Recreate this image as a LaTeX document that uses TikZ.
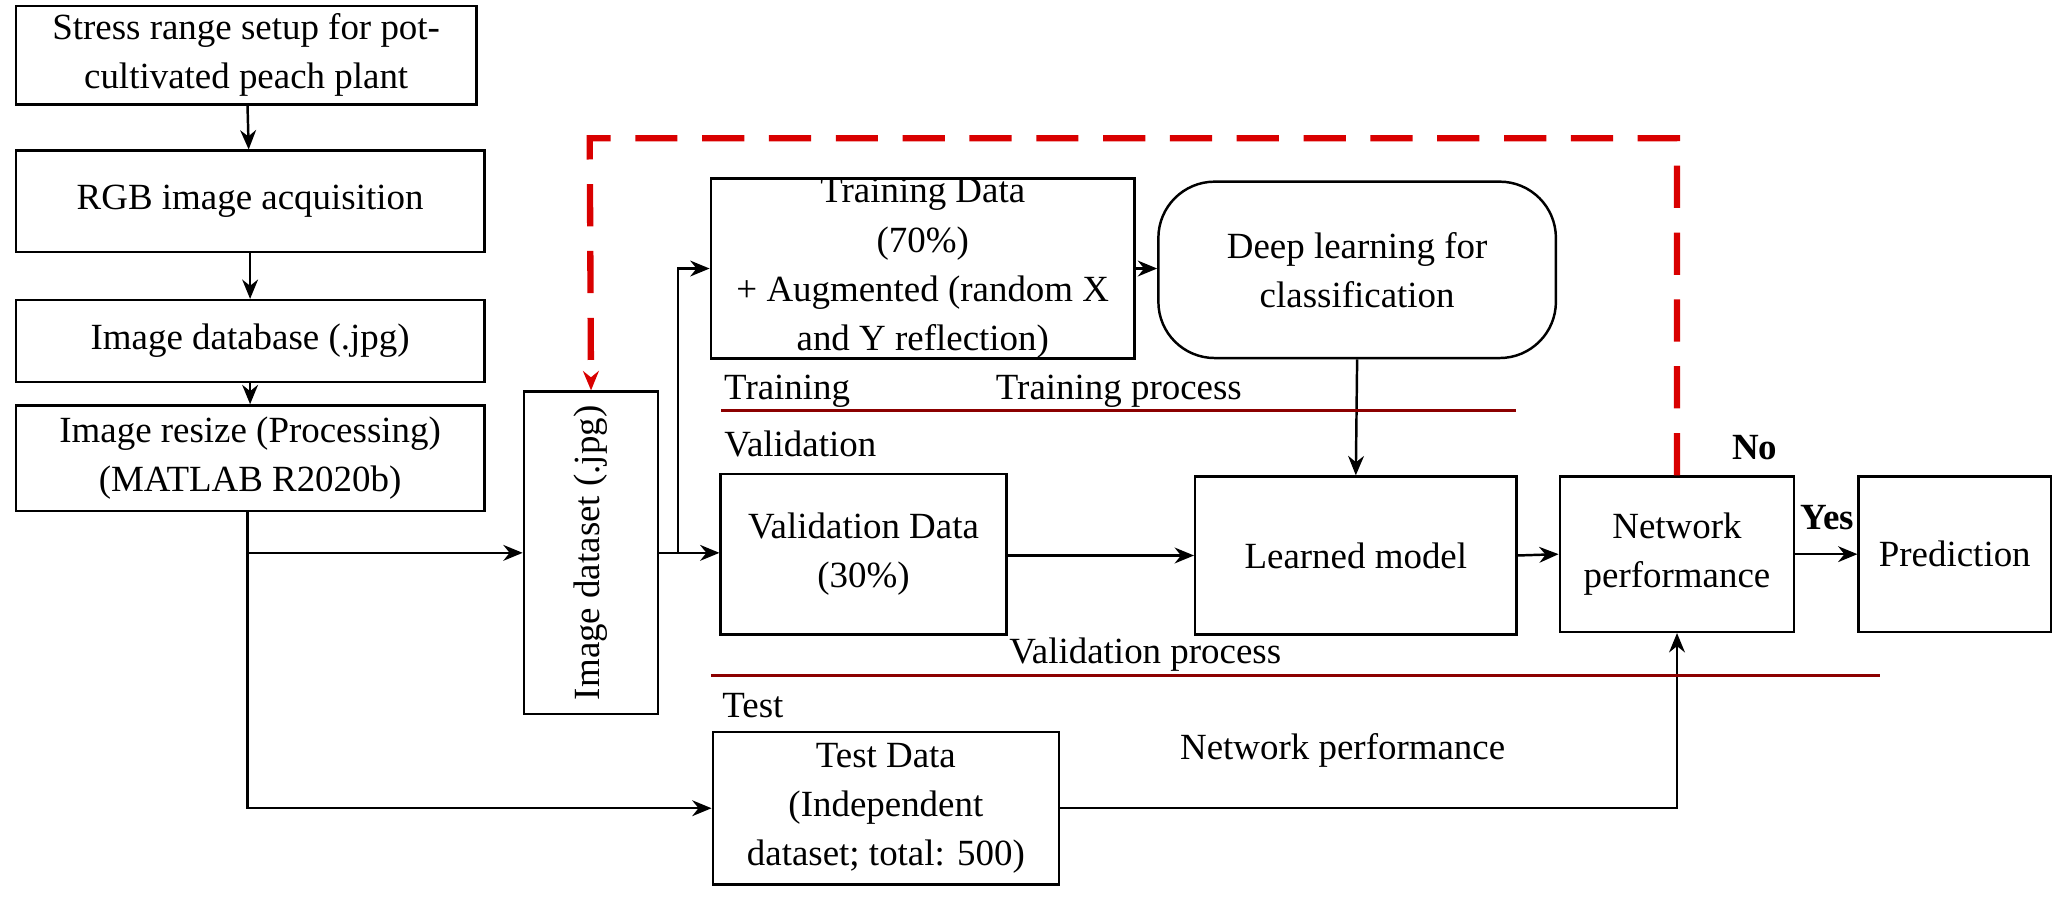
\documentclass[tikz,border=0pt]{standalone}
\usepackage{fontspec}
\setmainfont{Liberation Serif}
\usetikzlibrary{arrows.meta}
\newcommand\pxu{0.01316cm}
\begin{document}
\begin{tikzpicture}[x=0.01316cm,y=-0.01316cm,
  every node/.style={font=\fontsize{10.5}{14}\selectfont},
  box/.style={draw,line width=0.7pt,align=center,inner sep=0pt},
  ar/.style={-{Stealth[length=5.5pt,width=4.5pt]},line width=0.7pt},
  ln/.style={line width=0.7pt},
  sep/.style={draw=red!55!black,line width=0.8pt},
  lab/.style={inner sep=0pt}]
\useasboundingbox (0,0) rectangle (1568,684);
\node[box,minimum width=350*\pxu,minimum height=75*\pxu] (A) at (187,42) {Stress range setup for pot-\\cultivated peach plant};
\node[box,minimum width=356*\pxu,minimum height=77*\pxu] (B) at (190,153) {RGB image acquisition};
\node[box,minimum width=356*\pxu,minimum height=62*\pxu] (C) at (190,259) {Image database (.jpg)};
\node[box,minimum width=356*\pxu,minimum height=80*\pxu] (D) at (190,348) {Image resize (Processing)\\(MATLAB R2020b)};
\node[box,minimum width=102*\pxu,minimum height=245*\pxu] (E) at (449,420) {\rotatebox{90}{Image dataset (.jpg)}};
\node[box,minimum width=322*\pxu,minimum height=132*\pxu] (F) at (701,204) {Training Data\\(70\%)\\+ Augmented (random X\\and Y reflection)};
\node[box,rounded corners=16pt,minimum width=302*\pxu,minimum height=134*\pxu] (G) at (1031,205) {Deep learning for\\classification};
\node[box,minimum width=217*\pxu,minimum height=122*\pxu] (H) at (656,421) {Validation Data\\(30\%)};
\node[box,minimum width=244*\pxu,minimum height=120*\pxu] (I) at (1030,422) {Learned model};
\node[box,minimum width=178*\pxu,minimum height=118*\pxu] (J) at (1274,421) {Network\\performance};
\node[box,minimum width=146*\pxu,minimum height=118*\pxu] (K) at (1485,421) {Prediction};
\node[box,minimum width=263*\pxu,minimum height=116*\pxu] (L) at (673,614) {Test Data\\(Independent\\dataset; total: 500)};
\coordinate (d1) at (188,420);
\coordinate (b1) at (515,420);
\draw[ar] (A) -- (B);
\draw[ar] (B) -- (C);
\draw[ar] (C) -- (D);
\draw[ln] (D.south -| d1) -- (d1);
\draw[ar] (d1) -- (E.west |- d1);
\draw[ar] (d1) |- (L.west);
\draw[ln] (E.east |- b1) -- (b1);
\draw[ar] (b1) -- (H.west |- b1);
\draw[ar] (b1) |- (F.west);
\draw[ar] (F.east) -- (G.west |- F.east);
\draw[ar] (G.south) -- (I.north);
\draw[ar] (H.east |- I.west) -- (I.west);
\draw[ar] (I.east) -- (J.west);
\draw[ar] (J.east) -- (K.west);
\draw[ar] (L.east) -| (J.south);
\draw[ar,red!85!black,dash pattern=on 12pt off 7pt,line width=1.8pt] (J.north) |- (448,105) -- (E.north);
\draw[sep] (548,312) -- (1152,312);
\draw[sep] (540,513) -- (1428,513);
\node[lab] at (598,297) {Training};
\node[lab] at (850,297) {Training process};
\node[lab] at (608,337) {Validation};
\node[lab] at (870,497) {Validation process};
\node[lab] at (572,536) {Test};
\node[lab] at (1020,570) {Network performance};
\node[lab,font=\fontsize{10.5}{14}\selectfont\bfseries] at (1333,340) {No};
\node[lab,font=\fontsize{10.5}{14}\selectfont\bfseries] at (1388,393) {Yes};
\end{tikzpicture}
\end{document}
